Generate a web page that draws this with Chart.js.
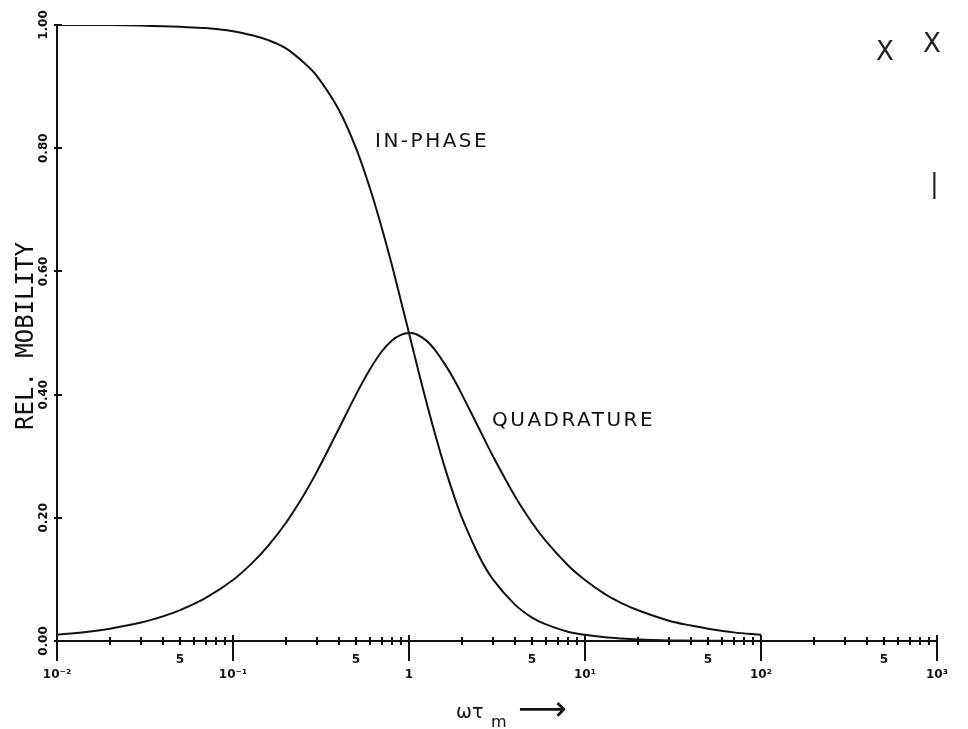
<!DOCTYPE html>
<html>
<head>
  <meta charset="UTF-8">
  <title>Relative mobility vs wτm</title>
  <script src="https://cdn.jsdelivr.net/npm/chart.js"></script>
  <style>
    html, body { margin: 0; padding: 0; background: #fff; }
    #wrap { width: 968px; height: 729px; }
  </style>
</head>
<body>
  <div id="wrap"><canvas id="mob" width="968" height="729"></canvas></div>

  <script>
    // values (x = ω·τm, log axis)
    const omegaTau = [0.01, 0.015, 0.02, 0.03, 0.04, 0.05, 0.07, 0.1, 0.13, 0.16, 0.2, 0.25, 0.3, 0.4, 0.5,
      0.6, 0.7, 0.8, 0.9, 1, 1.1, 1.25, 1.4, 1.6, 1.8, 2, 2.5, 3, 4, 5, 6, 8, 10, 13, 16, 20, 30, 40, 50, 70, 100];
    const inPhase = [1.0, 1.0, 1.0, 0.999, 0.998, 0.997, 0.995, 0.99, 0.983, 0.975, 0.962, 0.94, 0.917, 0.862, 0.80,
      0.735, 0.671, 0.61, 0.552, 0.50, 0.452, 0.39, 0.338, 0.281, 0.236, 0.20, 0.138, 0.10, 0.059, 0.038, 0.027, 0.015,
      0.01, 0.006, 0.004, 0.0025, 0.001, 0.0006, 0.0004, 0.0002, 0.0001];
    const quadrature = [0.01, 0.015, 0.02, 0.03, 0.04, 0.05, 0.07, 0.099, 0.128, 0.156, 0.192, 0.235, 0.275, 0.345, 0.40,
      0.441, 0.47, 0.488, 0.497, 0.50, 0.498, 0.488, 0.473, 0.449, 0.425, 0.40, 0.345, 0.30, 0.235, 0.192, 0.162, 0.123,
      0.099, 0.076, 0.062, 0.05, 0.033, 0.025, 0.02, 0.014, 0.01];

    // axis ticks
    const xTicks = [0.01, 0.02, 0.03, 0.04, 0.05, 0.06, 0.07, 0.08, 0.09,
      0.1, 0.2, 0.3, 0.4, 0.5, 0.6, 0.7, 0.8, 0.9,
      1, 2, 3, 4, 5, 6, 7, 8, 9,
      10, 20, 30, 40, 50, 60, 70, 80, 90,
      100, 200, 300, 400, 500, 600, 700, 800, 900, 1000];
    const decadeLabels = { 0.01: '10⁻²', 0.1: '10⁻¹', 1: '1', 10: '10¹', 100: '10²', 1000: '10³' };
    const fiveTicks = [0.05, 0.5, 5, 50, 500];
    const yTicks = [0, 0.2, 0.4, 0.6, 0.8, 1.0];

    const curveLabels = [
      { text: 'IN-PHASE', x: 375, y: 147 },
      { text: 'QUADRATURE', x: 492, y: 426 }
    ];

    const isDecade = v => Math.abs(Math.log10(v) - Math.round(Math.log10(v))) < 1e-9;

    // tick marks that cross the axis line, plus text on the plot
    const plotterMarks = {
      id: 'plotterMarks',
      afterDraw(chart) {
        const c = chart.ctx;
        const xs = chart.scales.x, ys = chart.scales.y;
        const base = chart.chartArea.bottom, left = chart.chartArea.left;
        c.save();
        c.strokeStyle = '#111';
        c.lineWidth = 2;
        xTicks.forEach(v => {
          const px = Math.round(xs.getPixelForValue(v));
          c.beginPath();
          if (isDecade(v)) { c.moveTo(px, base - 6); c.lineTo(px, base + 20); }
          else { c.moveTo(px, base - 4); c.lineTo(px, base + 4); }
          c.stroke();
        });
        yTicks.forEach(v => {
          const py = Math.round(ys.getPixelForValue(v));
          c.beginPath();
          c.moveTo(left - 3, py); c.lineTo(left + 5, py);
          c.stroke();
        });

        c.fillStyle = '#111';
        c.font = '20px "DejaVu Sans"';
        c.letterSpacing = '2.5px';
        c.textBaseline = 'alphabetic';
        curveLabels.forEach(l => c.fillText(l.text, l.x, l.y));

        // y title
        c.save();
        c.translate(33, 336);
        c.rotate(-Math.PI / 2);
        c.textAlign = 'center';
        c.letterSpacing = '0px';
        c.font = '24px "DejaVu Sans Mono"';
        c.fillText('REL. MOBILITY', 0, 0);
        c.restore();

        // x title  ωτm ->
        c.letterSpacing = '0px';
        c.font = '19px "DejaVu Sans"';
        c.fillText('ωτ', 456, 718);
        c.font = '16px "DejaVu Sans"';
        c.fillText('m', 491, 727);
        c.font = '34px "DejaVu Sans"';
        c.fillText('⟶', 518, 720);

        // pencil marks on the scan
        c.font = '26px "DejaVu Sans"';
        c.fillStyle = '#222';
        c.fillText('X', 876, 60);
        c.fillText('X', 923, 52);
        c.fillText('|', 930, 192);
        c.restore();
      }
    };

    new Chart(document.getElementById('mob'), {
      type: 'line',
      data: {
        datasets: [
          {
            label: 'In-phase',
            data: omegaTau.map((x, i) => ({ x: x, y: inPhase[i] })),
            borderColor: '#111',
            borderWidth: 2,
            pointRadius: 0,
            tension: 0.35
          },
          {
            label: 'Quadrature',
            data: omegaTau.map((x, i) => ({ x: x, y: quadrature[i] })),
            borderColor: '#111',
            borderWidth: 2,
            pointRadius: 0,
            tension: 0.35
          }
        ]
      },
      options: {
        responsive: false,
        animation: false,
        layout: { padding: { left: 0, right: 31, top: 25, bottom: 0 } },
        plugins: { legend: { display: false }, tooltip: { enabled: false } },
        scales: {
          x: {
            type: 'logarithmic',
            min: 0.01,
            max: 1000,
            afterBuildTicks: s => { s.ticks = xTicks.map(v => ({ value: v })); },
            afterFit: s => { s.height = 88; },
            grid: { display: false },
            border: { display: true, color: '#111', width: 2 },
            ticks: {
              autoSkip: false,
              maxRotation: 0,
              padding: 3,
              color: '#111',
              font: { family: 'DejaVu Sans', size: 12, weight: 'bold', lineHeight: 1.25 },
              callback: v => {
                if (decadeLabels[v] !== undefined) return ['', decadeLabels[v]];
                if (fiveTicks.includes(v)) return ['5', ''];
                return '';
              }
            }
          },
          y: {
            min: 0,
            max: 1,
            afterBuildTicks: s => { s.ticks = yTicks.map(v => ({ value: v })); },
            afterFit: s => { s.width = 57; },
            grid: { display: false },
            border: { display: true, color: '#111', width: 2 },
            ticks: {
              minRotation: 90,
              maxRotation: 90,
              crossAlign: 'center',
              padding: -10,
              color: '#111',
              font: { family: 'DejaVu Sans', size: 12, weight: 'bold' },
              callback: v => v.toFixed(2)
            }
          }
        }
      },
      plugins: [plotterMarks]
    });
  </script>
</body>
</html>
